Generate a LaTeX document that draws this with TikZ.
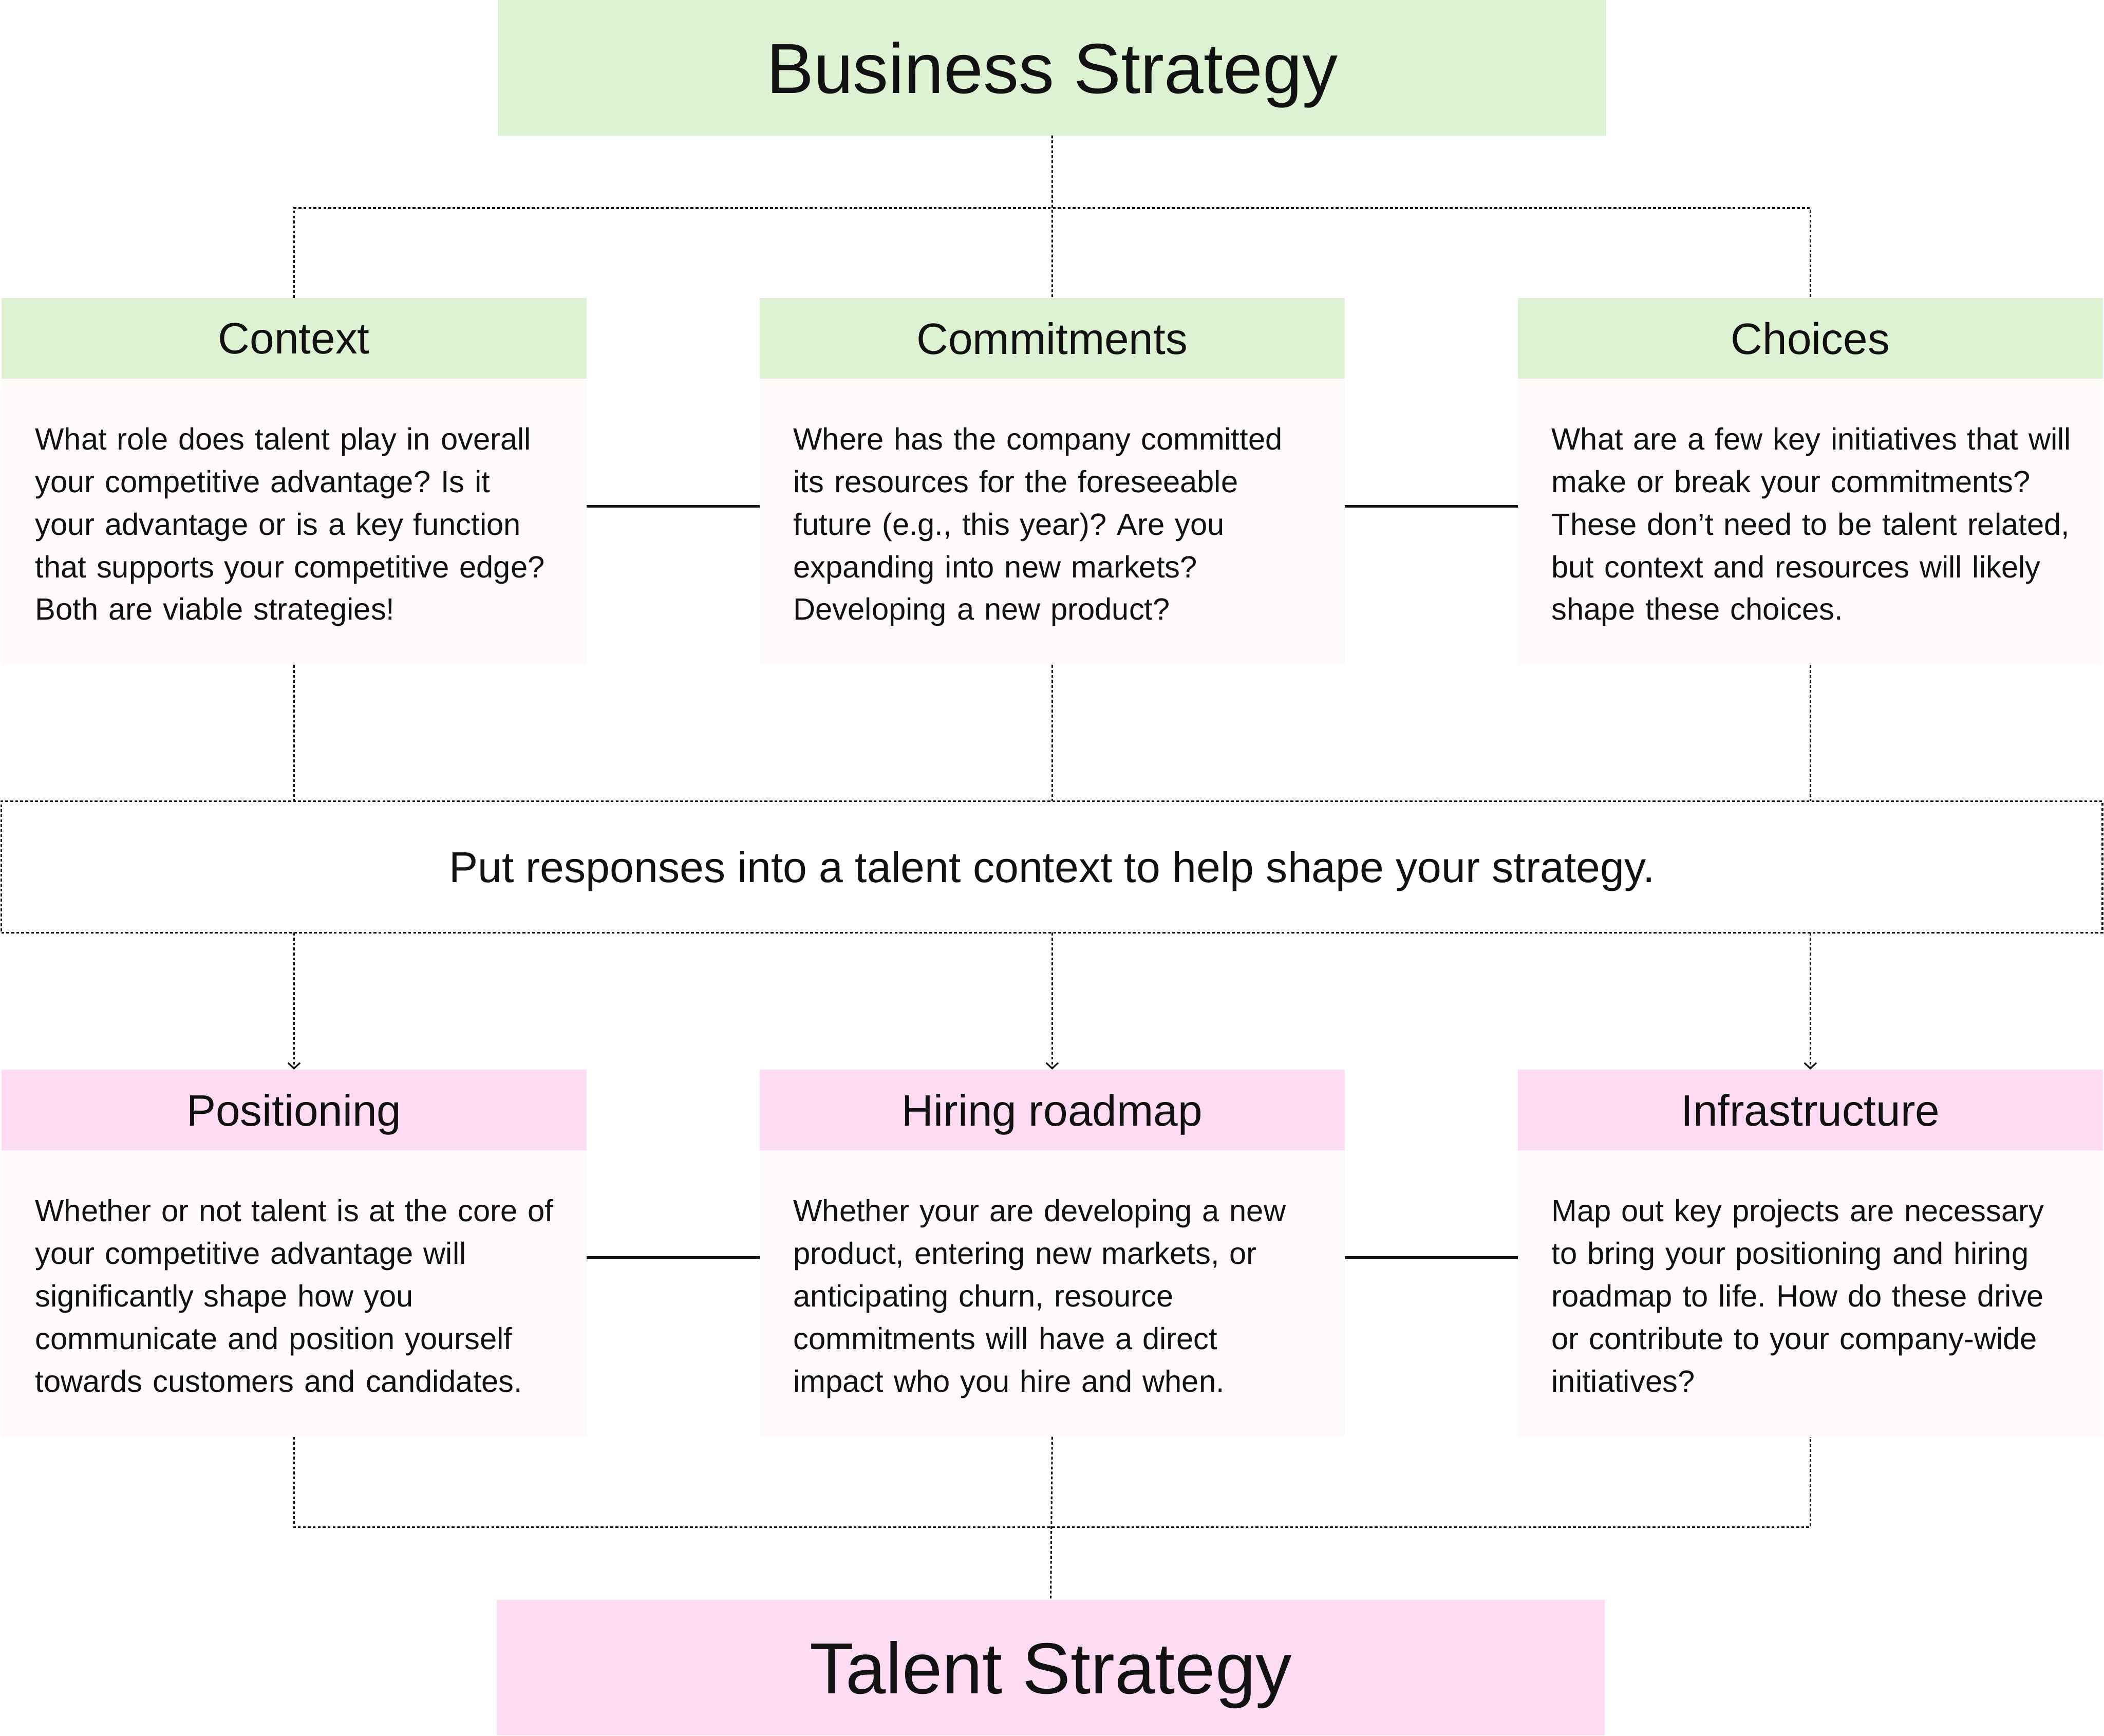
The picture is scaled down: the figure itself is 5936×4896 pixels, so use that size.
\documentclass[tikz,border=0pt]{standalone}
\usepackage{fontspec}
\setmainfont{Liberation Sans}
\usetikzlibrary{arrows.meta}
\definecolor{hgreen}{HTML}{DDF1D3}
\definecolor{hpink}{HTML}{FDDBF3}
\definecolor{bodybg}{HTML}{FDFAF9}
\definecolor{ink}{HTML}{111111}
\frenchspacing
\begin{document}
\begin{tikzpicture}[x=0.1pt,y=-0.1pt,
  every node/.style={inner sep=0pt, outer sep=0pt, text=ink},
  bigbox/.style={rectangle, anchor=north west, minimum width=312.7pt, minimum height=38.2pt, text depth=0pt},
  headbox/.style={rectangle, anchor=north west, minimum width=165.1pt, minimum height=22.8pt, text depth=0pt, font=\fontsize{12.4}{15}\selectfont},
  bodybox/.style={rectangle, anchor=north west, fill=bodybg, minimum width=165.1pt, minimum height=80.8pt, text width=146pt, align=left, text height=9.3pt, text depth=49.9pt, font=\fontsize{8.65}{12}\selectfont},
  respbox/.style={rectangle, anchor=north west, draw=ink, dotline, minimum width=592.8pt, minimum height=37.1pt, text depth=0pt, font=\fontsize{12.2}{15}\selectfont},
  dotline/.style={line width=0.45pt, dash pattern=on 0.8pt off 0.6pt, draw=ink},
  solidline/.style={line width=0.8pt, draw=ink},
  tip/.style={-{Straight Barb[length=1.6pt, width=3.4pt, line width=0.45pt]}}
]
\useasboundingbox (0,0) rectangle (5936,4896);
\fill[white] (0,0) rectangle (5936,4896);

% top
\node[bigbox, fill=hgreen, font=\fontsize{20}{24}\selectfont] (bs) at (1405,0) {Business Strategy};

\node[headbox, fill=hgreen] (ctxh) at (4,840) {Context};
\node[headbox, fill=hgreen] (comh) at (2143,840) {Commitments};
\node[headbox, fill=hgreen] (choh) at (4282,840) {Choices};

\node[bodybox] (ctxb) at (4,1068) {\mbox{What role does talent play in overall}\\\mbox{your competitive advantage? Is it}\\\mbox{your advantage or is a key function}\\\mbox{that supports your competitive edge?}\\\mbox{Both are viable strategies!}};
\node[bodybox] (comb) at (2143,1068) {\mbox{Where has the company committed}\\\mbox{its resources for the foreseeable}\\\mbox{future (e.g., this year)? Are you}\\\mbox{expanding into new markets?}\\\mbox{Developing a new product?}};
\node[bodybox] (chob) at (4282,1068) {\mbox{What are a few key initiatives that will}\\\mbox{make or break your commitments?}\\\mbox{These don’t need to be talent related,}\\\mbox{but context and resources will likely}\\\mbox{shape these choices.}};

% middle
\node[respbox] (resp) at (4,2260) {Put responses into a talent context to help shape your strategy.};

% bottom
\node[headbox, fill=hpink] (posh) at (4,3017) {Positioning};
\node[headbox, fill=hpink] (hirh) at (2143,3017) {Hiring roadmap};
\node[headbox, fill=hpink] (infh) at (4282,3017) {Infrastructure};

\node[bodybox] (posb) at (4,3245) {\mbox{Whether or not talent is at the core of}\\\mbox{your competitive advantage will}\\\mbox{significantly shape how you}\\\mbox{communicate and position yourself}\\\mbox{towards customers and candidates.}};
\node[bodybox] (hirb) at (2143,3245) {\mbox{Whether your are developing a new}\\\mbox{product, entering new markets, or}\\\mbox{anticipating churn, resource}\\\mbox{commitments will have a direct}\\\mbox{impact who you hire and when.}};
\node[bodybox] (infb) at (4282,3245) {\mbox{Map out key projects are necessary}\\\mbox{to bring your positioning and hiring}\\\mbox{roadmap to life. How do these drive}\\\mbox{or contribute to your company-wide}\\\mbox{initiatives?}};

\node[bigbox, fill=hpink, font=\fontsize{20.4}{24}\selectfont] (ts) at (1401,4513) {Talent Strategy};

% connectors: top
\coordinate (tj) at (2968,587);
\draw[dotline] (bs.south) -- (comh.north);
\draw[dotline] (ctxh.north) |- (tj) -| (choh.north);

\coordinate (tl) at (0,1428);
\draw[solidline] (ctxb.east |- tl) -- (comb.west |- tl);
\draw[solidline] (comb.east |- tl) -- (chob.west |- tl);

\draw[dotline] (ctxb.south) -- (ctxb.south |- resp.north);
\draw[dotline] (comb.south) -- (comb.south |- resp.north);
\draw[dotline] (chob.south) -- (chob.south |- resp.north);

\draw[dotline, tip] (posh.north |- resp.south) -- (posh.north);
\draw[dotline, tip] (hirh.north |- resp.south) -- (hirh.north);
\draw[dotline, tip] (infh.north |- resp.south) -- (infh.north);

\coordinate (bl) at (0,3548);
\draw[solidline] (posb.east |- bl) -- (hirb.west |- bl);
\draw[solidline] (hirb.east |- bl) -- (infb.west |- bl);

\coordinate (bj) at (2968,4308);
\draw[dotline] (posb.south) |- (bj) -| (infb.south);
\draw[dotline] (hirb.south) -- (ts.north);
\end{tikzpicture}
\end{document}
